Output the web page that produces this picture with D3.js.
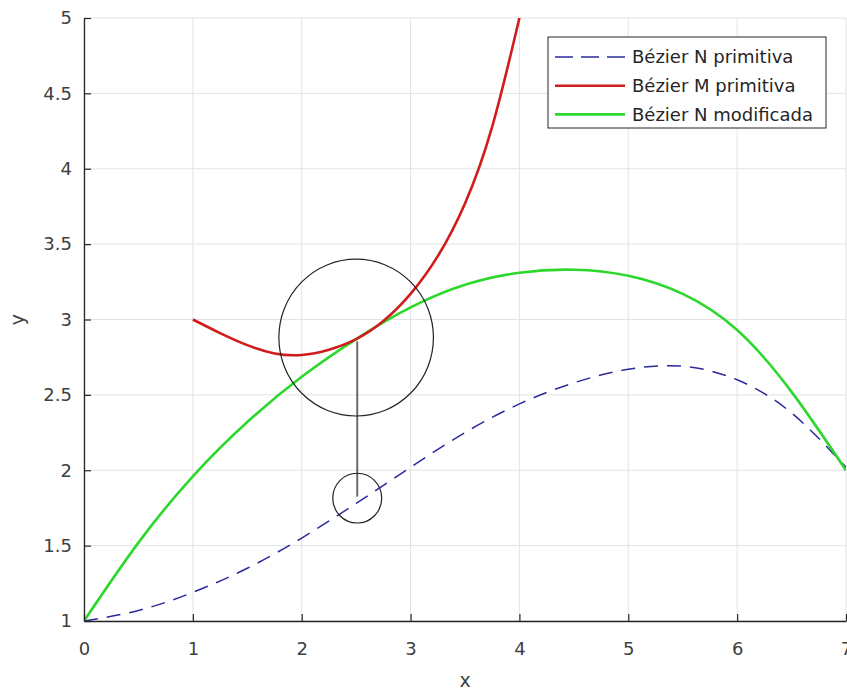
<!DOCTYPE html>
<html>
<head>
<meta charset="utf-8">
<script src="https://cdn.jsdelivr.net/npm/d3@7"></script>
<style>
  body { margin: 0; background: #fff; }
  svg { display: block; }
  text { font-family: "DejaVu Sans", sans-serif; }
</style>
</head>
<body>
<svg id="chart" width="847" height="691"></svg>
<script>
// Tick values
const xTicks = [0, 1, 2, 3, 4, 5, 6, 7];
const yTicks = [1, 1.5, 2, 2.5, 3, 3.5, 4, 4.5, 5];

// Bézier N primitiva (dashed blue)
const nPrimX = [0, 0.5, 1, 1.5, 2, 2.5, 3, 3.5, 4, 4.5, 5, 5.5, 6, 6.5, 7];
const nPrimY = [1, 1.07, 1.19, 1.35, 1.55, 1.78, 2.02, 2.25, 2.44, 2.58, 2.67, 2.69, 2.6, 2.38, 2.02];

// Bézier M primitiva (red)
const mPrimX = [1, 1.25, 1.5, 1.75, 2, 2.25, 2.5, 2.75, 3, 3.25, 3.5, 3.75, 4];
const mPrimY = [3, 2.91, 2.83, 2.775, 2.765, 2.8, 2.87, 2.99, 3.17, 3.42, 3.77, 4.28, 5];

// Bézier N modificada (green)
const nModX = [0, 0.5, 1, 1.5, 2, 2.5, 3, 3.5, 4, 4.5, 5, 5.5, 6, 6.5, 7];
const nModY = [1, 1.52, 1.96, 2.32, 2.62, 2.87, 3.08, 3.23, 3.31, 3.33, 3.29, 3.17, 2.93, 2.52, 2];

// Annotation: two ellipses joined by a vertical line (data units)
const markCx = [2.5, 2.51];
const markCy = [2.88, 1.815];
const markRx = [0.71, 0.225];
const markRy = [0.52, 0.165];
const joinX = 2.51;
const joinY = [2.855, 1.825];

const legendLabels = ['Bézier N primitiva', 'Bézier M primitiva', 'Bézier N modificada'];

const margin = { top: 18, right: 1, bottom: 70, left: 84 };
const W = 847, H = 691;
const width = W - margin.left - margin.right;
const height = H - margin.top - margin.bottom;

const svg = d3.select('#chart');
const g = svg.append('g').attr('transform', `translate(${margin.left},${margin.top})`);

const x = d3.scaleLinear().domain([0, 7]).range([0, width]);
const y = d3.scaleLinear().domain([1, 5]).range([height, 0]);

// grid
g.append('g').selectAll('line')
  .data(xTicks).join('line')
  .attr('x1', d => x(d)).attr('x2', d => x(d))
  .attr('y1', 0).attr('y2', height)
  .attr('stroke', '#e3e3e3').attr('stroke-width', 1);
g.append('g').selectAll('line')
  .data(yTicks).join('line')
  .attr('x1', 0).attr('x2', width)
  .attr('y1', d => y(d)).attr('y2', d => y(d))
  .attr('stroke', '#e3e3e3').attr('stroke-width', 1);

// clip for curves
svg.append('defs').append('clipPath').attr('id', 'plotclip')
  .append('rect').attr('x', 0).attr('y', 0).attr('width', width).attr('height', height);

const plot = g.append('g').attr('clip-path', 'url(#plotclip)');

const line = d3.line()
  .x(d => x(d[0]))
  .y(d => y(d[1]))
  .curve(d3.curveNatural);

const series = [
  { xs: nPrimX, ys: nPrimY, color: '#2a2a9c', w: 1.5, dash: '14,9' },
  { xs: nModX, ys: nModY, color: '#2cd82c', w: 2.6, dash: null },
  { xs: mPrimX, ys: mPrimY, color: '#d01c1c', w: 2.6, dash: null }
];

series.forEach(s => {
  plot.append('path')
    .datum(d3.zip(s.xs, s.ys))
    .attr('d', line)
    .attr('fill', 'none')
    .attr('stroke', s.color)
    .attr('stroke-width', s.w)
    .attr('stroke-dasharray', s.dash);
});

// annotation
plot.append('line')
  .attr('x1', x(joinX)).attr('x2', x(joinX))
  .attr('y1', y(joinY[0])).attr('y2', y(joinY[1]))
  .attr('stroke', '#6a6a6a').attr('stroke-width', 2);

plot.selectAll('ellipse')
  .data(d3.range(markCx.length)).join('ellipse')
  .attr('cx', i => x(markCx[i]))
  .attr('cy', i => y(markCy[i]))
  .attr('rx', i => x(markRx[i]) - x(0))
  .attr('ry', i => y(0) - y(markRy[i]))
  .attr('fill', 'none')
  .attr('stroke', '#222')
  .attr('stroke-width', 1.2);

// axes
const xAxis = g.append('g')
  .attr('transform', `translate(0,${height})`)
  .call(d3.axisBottom(x).tickValues(xTicks).tickSizeInner(-7).tickSizeOuter(0).tickPadding(21).tickFormat(d3.format('d')));
const yAxis = g.append('g')
  .call(d3.axisLeft(y).tickValues(yTicks).tickSizeInner(-7).tickSizeOuter(0).tickPadding(12).tickFormat(d => String(d)));

[xAxis, yAxis].forEach(a => {
  a.select('.domain').attr('stroke', '#262626').attr('stroke-width', 1.3);
  a.selectAll('.tick line').attr('stroke', '#262626').attr('stroke-width', 1.2);
  a.selectAll('.tick text').attr('fill', '#404040').attr('font-size', 18)
    .attr('font-family', '"DejaVu Sans", sans-serif');
});

// axis labels
g.append('text')
  .attr('x', width / 2).attr('y', height + 66)
  .attr('text-anchor', 'middle')
  .attr('fill', '#404040').attr('font-size', 19)
  .text('x');
g.append('text')
  .attr('transform', `translate(${-60},${height / 2}) rotate(-90)`)
  .attr('text-anchor', 'middle')
  .attr('fill', '#404040').attr('font-size', 19)
  .text('y');

// legend
const lg = svg.append('g').attr('transform', 'translate(548,37)');
lg.append('rect')
  .attr('width', 278).attr('height', 91)
  .attr('fill', '#fff').attr('stroke', '#262626').attr('stroke-width', 1);

const legendOrder = [series[0], series[2], series[1]];
legendLabels.forEach((label, i) => {
  const s = legendOrder[i];
  const cy = 20 + i * 28.7;
  lg.append('line')
    .attr('x1', 7).attr('x2', 77)
    .attr('y1', cy).attr('y2', cy)
    .attr('stroke', s.color)
    .attr('stroke-width', s.w)
    .attr('stroke-dasharray', s.dash ? '18,8' : null);
  lg.append('text')
    .attr('x', 84).attr('y', cy).attr('dy', '0.36em')
    .attr('fill', '#262626').attr('font-size', 18)
    .text(label);
});
</script>
</body>
</html>
